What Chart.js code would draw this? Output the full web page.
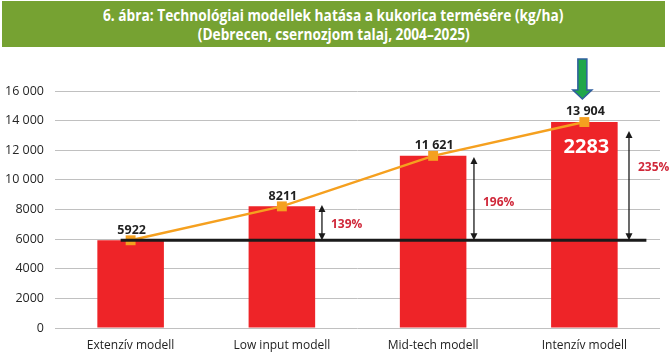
<!DOCTYPE html>
<html>
<head>
<meta charset="utf-8">
<script src="https://cdn.jsdelivr.net/npm/chart.js@4"></script>
<style>
  html, body { margin: 0; padding: 0; background: #fff; }
  #wrap { position: relative; width: 669px; height: 353px; overflow: hidden; }
  #banner {
    position: absolute; left: 2px; top: 1px; width: 663px; height: 46px;
    background: #76a232; color: #fff; text-align: center;
    font-family: 'Open Sans', sans-serif; font-weight: 700; font-size: 16.5px; line-height: 19px;
    padding-top: 4px; box-sizing: border-box;
  }
  #banner span { display: inline-block; white-space: nowrap; transform-origin: center; }
  #chart { position: absolute; left: 0; top: 0; }
</style>
</head>
<body>
<div id="wrap">
  <canvas id="chart" width="669" height="353"></canvas>
  <div id="banner">
    <span id="t1">6. ábra: Technológiai modellek hatása a kukorica termésére (kg/ha)</span><br>
    <span id="t2">(Debrecen, csernozjom talaj, 2004–2025)</span>
  </div>
</div>
<script>
'use strict';

// ─── Data ─────────────────────────────────────────────────────────────────────
const categories     = ['Extenzív modell', 'Low input modell', 'Mid-tech modell', 'Intenzív modell'];
const yields         = [5922, 8211, 11621, 13904];
const baseline       = 5922;
const increaseLabels = ['139%', '196%', '235%'];   // for categories 1..3
const arrowTops      = [8300, 11550, 13300];
const increaseLabelY = [6950, 8500, 10800];
const gainLabel      = '2283';
const gainLabelY     = 12200;
const yTicks         = [0, 2000, 4000, 6000, 8000, 10000, 12000, 14000, 16000];

// ─── Helpers ──────────────────────────────────────────────────────────────────
function fmt(v) {
  // Hungarian style: space separator only from 10 000 up
  return v >= 10000 ? String(v).replace(/\B(?=(\d{3})+(?!\d))/g, ' ') : String(v);
}

function arrow(ctx, x, yTop, yBot) {
  ctx.save();
  ctx.strokeStyle = '#1a1a1a';
  ctx.fillStyle   = '#1a1a1a';
  ctx.lineWidth   = 1.3;
  ctx.beginPath();
  ctx.moveTo(x, yTop + 4);
  ctx.lineTo(x, yBot - 4);
  ctx.stroke();
  ctx.beginPath();
  ctx.moveTo(x, yTop); ctx.lineTo(x - 3.5, yTop + 7); ctx.lineTo(x + 3.5, yTop + 7); ctx.closePath();
  ctx.fill();
  ctx.beginPath();
  ctx.moveTo(x, yBot); ctx.lineTo(x - 3.5, yBot - 7); ctx.lineTo(x + 3.5, yBot - 7); ctx.closePath();
  ctx.fill();
  ctx.restore();
}

// ─── Annotations plugin ───────────────────────────────────────────────────────
const annotations = {
  id: 'annotations',
  afterDatasetsDraw(chart) {
    const { ctx, scales: { x, y } } = chart;
    const w = x.getPixelForValue(1) - x.getPixelForValue(0);

    // baseline
    ctx.save();
    ctx.strokeStyle = '#1a1a1a';
    ctx.lineWidth = 3;
    ctx.beginPath();
    ctx.moveTo(x.getPixelForValue(0) - 0.066 * w, y.getPixelForValue(baseline));
    ctx.lineTo(x.getPixelForValue(3) + 0.41 * w, y.getPixelForValue(baseline));
    ctx.stroke();
    ctx.restore();

    // value labels
    ctx.save();
    ctx.font = 'bold 12.5px "Open Sans", sans-serif';
    ctx.fillStyle = '#1f1f1f';
    ctx.textAlign = 'center';
    ctx.textBaseline = 'bottom';
    yields.forEach((v, i) => {
      ctx.fillText(fmt(v), x.getPixelForValue(i) + 1, y.getPixelForValue(v) - 4);
    });
    ctx.restore();

    // increase arrows + percentages
    const arrowOffset = [0.265, 0.27, 0.295];
    increaseLabels.forEach((t, k) => {
      const i  = k + 1;
      const ax = x.getPixelForValue(i) + arrowOffset[k] * w;
      arrow(ctx, ax, y.getPixelForValue(arrowTops[k]), y.getPixelForValue(baseline));
      ctx.save();
      ctx.font = 'bold 12px "Open Sans", sans-serif';
      ctx.fillStyle = '#d0283a';
      ctx.textAlign = 'left';
      ctx.textBaseline = 'middle';
      ctx.fillText(t, ax + 9, y.getPixelForValue(increaseLabelY[k]));
      ctx.restore();
    });

    // gain label inside last bar
    ctx.save();
    ctx.font = 'bold 20px "Open Sans", sans-serif';
    ctx.fillStyle = '#ffffff';
    ctx.textAlign = 'center';
    ctx.textBaseline = 'middle';
    ctx.fillText(gainLabel, x.getPixelForValue(3) + 2, y.getPixelForValue(gainLabelY));
    ctx.restore();

    // green pointer arrow above the last bar
    const gx = x.getPixelForValue(3) - 2;
    const gy = y.getPixelForValue(yields[3]) - 23;   // tip
    ctx.save();
    ctx.fillStyle = '#1fa64a';
    ctx.strokeStyle = '#2f5f9e';
    ctx.lineWidth = 1.5;
    ctx.beginPath();
    ctx.moveTo(gx - 4.5, gy - 40);
    ctx.lineTo(gx + 4.5, gy - 40);
    ctx.lineTo(gx + 4.5, gy - 9);
    ctx.lineTo(gx + 9.5, gy - 9);
    ctx.lineTo(gx, gy);
    ctx.lineTo(gx - 9.5, gy - 9);
    ctx.lineTo(gx - 4.5, gy - 9);
    ctx.closePath();
    ctx.fill();
    ctx.stroke();
    ctx.restore();
  }
};

// ─── Chart ────────────────────────────────────────────────────────────────────
new Chart(document.getElementById('chart'), {
  data: {
    labels: categories,
    datasets: [
      {
        type: 'line', data: yields, order: 1,
        borderColor: '#f5a01f', borderWidth: 2.5,
        pointStyle: 'rect', pointRadius: 7, pointBackgroundColor: '#f5a01f', pointBorderWidth: 0,
        tension: 0,
      },
      {
        type: 'bar', data: yields, order: 2,
        backgroundColor: '#ee2428',
        categoryPercentage: 1, barPercentage: 0.44,
      },
    ],
  },
  options: {
    responsive: false,
    animation: false,
    layout: { padding: { top: 91, right: 9, left: 0, bottom: 0 } },
    plugins: { legend: { display: false }, tooltip: { enabled: false } },
    scales: {
      x: {
        grid: { display: false },
        border: { display: false },
        ticks: { color: '#222', font: { family: 'Open Sans', size: 12 }, padding: 2 },
        afterFit: (s) => { s.height = 25; },
      },
      y: {
        min: 0, max: 16000,
        afterBuildTicks: (s) => { s.ticks = yTicks.map((v) => ({ value: v })); },
        grid: { color: '#c0c0c0', lineWidth: 1, drawTicks: false },
        border: { display: false },
        ticks: { color: '#262626', font: { family: 'Open Sans', size: 12.5 }, padding: 11, callback: (v) => fmt(v) },
        afterFit: (s) => { s.width = 55; },
      },
    },
  },
  plugins: [annotations],
});

// fit condensed title lines to the reference width
const t1 = document.getElementById('t1');
const t2 = document.getElementById('t2');
const k  = 460 / t1.offsetWidth;
t1.style.transform = `scaleX(${k})`;
t2.style.transform = `scaleX(${k})`;
</script>
</body>
</html>
